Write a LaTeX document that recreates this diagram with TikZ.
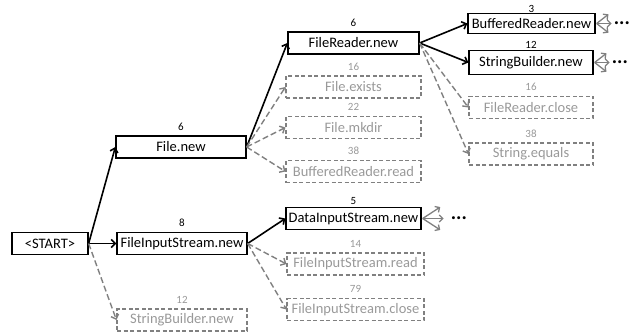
\documentclass[tikz,border=0pt]{standalone}
\usepackage{fontspec}
\setmainfont{Carlito}
\usetikzlibrary{arrows.meta,positioning}

\tikzset{
  call/.style={rectangle, minimum height=22pt, inner sep=1pt,
    font=\fontsize{14.5}{16}\selectfont},
  taken/.style={call, draw, line width=1.3pt},
  skipped/.style={call, draw=black!50, dash pattern=on 4pt off 2.5pt,
    line width=1.1pt, text=black!40},
  cnt/.style={font=\fontsize{11}{12}\selectfont, inner sep=1pt},
  cntg/.style={cnt, text=black!40},
  hot/.style={-{Straight Barb[length=4pt,width=8pt]}, line width=1.6pt},
  cold/.style={-{Straight Barb[length=4pt,width=8pt]}, line width=1.4pt,
    black!50, dash pattern=on 6pt off 3pt},
  more/.style={-{Straight Barb[length=3.5pt,width=7pt]}, line width=1.3pt, black!50},
  dots/.style={font=\fontsize{20}{20}\selectfont\bfseries, inner sep=0pt}
}

\begin{document}
\begin{tikzpicture}[x=1pt, y=-1pt, label distance=4pt]
  \useasboundingbox (0,0) rectangle (642,334);

  % entry
  \node[taken, minimum width=76pt] (start) at (50,243.5) {<START>};

  % first level
  \node[taken, minimum width=130pt, label={[cnt]above:6}] (file) at (181,147) {File.new};
  \node[taken, minimum width=130pt, label={[cnt]above:8}] (fis) at (182,243.5) {FileInputStream.new};
  \node[skipped, minimum width=130pt, label={[cntg]above:12}] (sbz) at (182,320) {StringBuilder.new};

  % second level
  \node[taken, minimum width=131pt, label={[cnt]above:6}] (frd) at (353.5,43) {FileReader.new};
  \node[skipped, minimum width=135pt, label={[cntg]above:16}] (fex) at (353.5,87) {File.exists};
  \node[skipped, minimum width=135pt, label={[cntg]above:22}] (fmk) at (353.5,127.5) {File.mkdir};
  \node[skipped, minimum width=135pt, label={[cntg]above:38}] (brr) at (353.5,171.5) {BufferedReader.read};
  \node[taken, minimum width=135pt, label={[cnt, label distance=1pt]above:5}] (dis) at (353.5,218.5) {DataInputStream.new};
  \node[skipped, minimum width=137pt, label={[cntg]above:14}] (fir) at (355.5,264) {FileInputStream.read};
  \node[skipped, minimum width=137pt, label={[cntg]above:79}] (fic) at (355.5,309.5) {FileInputStream.close};

  % third level
  \node[taken, minimum width=127pt, minimum height=20pt, label={[cnt, label distance=-0.5pt]above:3}] (brn) at (531.5,23.5) {BufferedReader.new};
  \node[taken, minimum width=124pt, minimum height=24pt, label={[cnt, label distance=0pt]above:12}] (sbn) at (531,62.5) {StringBuilder.new};
  \node[skipped, minimum width=124pt, label={[cntg]above:16}] (frc) at (531,107.5) {FileReader.close};
  \node[skipped, minimum width=124pt, label={[cntg]above:38}] (seq) at (531,154) {String.equals};

  % continuation marks
  \node[dots, right=18pt of brn.east] (brnd) {...};
  \node[dots, right=18pt of sbn.east] (sbnd) {...};
  \node[dots, right=29pt of dis.east] (disd) {...};

  % taken edges
  \draw[hot] (start.east) -- (file.west);
  \draw[hot] (start.east) -- (fis.west);
  \draw[hot] (file.east) -- (frd.west);
  \draw[hot] (fis.east) -- (dis.west);
  \draw[hot] (frd.east) -- (brn.west);
  \draw[hot] (frd.east) -- (sbn.west);

  % skipped edges
  \draw[cold] (start.east) -- (sbz.west);
  \draw[cold] (file.east) -- (fex.west);
  \draw[cold] (file.east) -- (fmk.west);
  \draw[cold] (file.east) -- (brr.west);
  \draw[cold] (fis.east) -- (fir.west);
  \draw[cold] (fis.east) -- (fic.west);
  \draw[cold] (frd.east) -- (frc.west);
  \draw[cold] (frd.east) -- (seq.west);

  % fans
  \foreach \n in {brn,sbn}
    \foreach \a in {-38,0,38}
      \draw[more] ([xshift=1pt]\n.east) -- ++(\a:15pt);
  \foreach \a in {-33,0,33}
    \draw[more] ([xshift=1pt]dis.east) -- ++(\a:21pt);
\end{tikzpicture}
\end{document}
